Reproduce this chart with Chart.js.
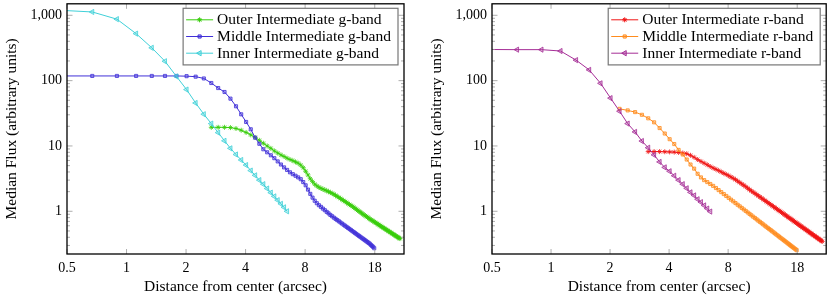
<!DOCTYPE html>
<html>
<head>
<meta charset="utf-8">
<script src="https://cdn.jsdelivr.net/npm/chart.js@4.4.1/dist/chart.umd.min.js"></script>
<style>
  body { margin: 0; background: #fff; }
  #wrap { position: relative; width: 830px; height: 301px; }
  .box { position: absolute; top: 0; height: 301px; }
</style>
</head>
<body>
<div id="wrap">
  <div class="box" style="left:0;width:415px"><canvas id="gChart"></canvas></div>
  <div class="box" style="left:425px;width:405px"><canvas id="rChart"></canvas></div>
</div>
<script>
// radial sample positions (arcsec), one per annulus
const radius = [
  0.447, 0.671, 0.894, 1.118, 1.342, 1.565, 1.789, 2.012, 2.236, 2.460,
  2.683, 2.907, 3.130, 3.354, 3.578, 3.801, 4.025, 4.249, 4.472, 4.696,
  4.919, 5.143, 5.367, 5.590, 5.814, 6.037, 6.261, 6.485, 6.708, 6.932,
  7.155, 7.379, 7.603, 7.826, 8.050, 8.273, 8.497, 8.721, 8.944, 9.168,
  9.391, 9.615, 9.839, 10.062, 10.286, 10.509, 10.733, 10.957, 11.180, 11.404,
  11.628, 11.851, 12.075, 12.298, 12.522, 12.746, 12.969, 13.193, 13.416, 13.640,
  13.864, 14.087, 14.311, 14.534, 14.758, 14.982, 15.205, 15.429, 15.652, 15.876,
  16.100, 16.323, 16.547, 16.771, 16.994, 17.218, 17.441, 17.665, 17.889, 18.112,
  18.336, 18.559, 18.783, 19.007, 19.230, 19.454, 19.677, 19.901, 20.125, 20.348,
  20.572, 20.795, 21.019, 21.243, 21.466, 21.690, 21.913, 22.137, 22.361, 22.584,
  22.808, 23.031, 23.255, 23.479, 23.702, 23.926, 24.150
];

const xTicks = [0.5, 1, 2, 4, 8, 18];
const yTicks = [1, 10, 100, 1000];
const yTickLabels = ['1', '10', '100', '1,000'];

// g-band profiles (start = index into radius)
const outerGStart = 10;
const outerG = [
  19.3, 19.3, 19.3, 19.1, 18.5, 17.4, 16.1, 14.8, 13.5, 12.2,
  11.0, 10.0, 9.2, 8.4, 7.8, 7.3, 6.9, 6.5, 6.2, 5.95,
  5.7, 5.45, 5.1, 4.65, 4.1, 3.6, 3.15, 2.85, 2.6, 2.45,
  2.33, 2.25, 2.18, 2.12, 2.06, 2.0, 1.94, 1.88, 1.82, 1.75,
  1.69, 1.63, 1.57, 1.51, 1.46, 1.41, 1.36, 1.31, 1.27, 1.23,
  1.19, 1.15, 1.11, 1.07, 1.035, 1.0, 0.97, 0.94, 0.91, 0.882,
  0.856, 0.832, 0.808, 0.786, 0.765, 0.743, 0.725, 0.707, 0.689, 0.673,
  0.656, 0.641, 0.626, 0.612, 0.598, 0.584, 0.571, 0.559, 0.547, 0.535,
  0.523, 0.512, 0.502, 0.491, 0.481, 0.472, 0.462, 0.453, 0.444, 0.436,
  0.427, 0.419, 0.411, 0.403, 0.396, 0.389, 0.382
];
const middleGStart = 0;
const middleG = [
  118, 118, 118, 118, 118, 118, 118, 117, 115, 108,
  92, 77, 67, 53, 40.5, 30.5, 23.3, 18, 13.4, 10.8,
  8.9, 8.0, 7.2, 6.5, 5.8, 5.2, 4.7, 4.3, 3.95, 3.7,
  3.5, 3.3, 3.1, 2.8, 2.5, 2.15, 1.85, 1.62, 1.45, 1.33,
  1.24, 1.17, 1.1, 1.04, 0.98, 0.93, 0.88, 0.84, 0.80, 0.766,
  0.734, 0.704, 0.675, 0.649, 0.623, 0.600, 0.577, 0.556, 0.536, 0.517,
  0.498, 0.481, 0.465, 0.449, 0.434, 0.420, 0.407, 0.394, 0.382, 0.370,
  0.359, 0.348, 0.338, 0.328, 0.318, 0.305, 0.295, 0.285, 0.272
];
const innerGStart = 0;
const innerG = [
  1200, 1125, 873, 524, 318, 198, 116, 73, 45.5, 30.6,
  22, 16, 12, 9.2, 7.4, 6.1, 5.1, 4.2, 3.55, 3.0,
  2.6, 2.23, 1.93, 1.69, 1.48, 1.30, 1.15, 1.0
];

// r-band profiles
const outerRStart = 12;
const outerR = [
  8.2, 8.2, 8.2, 8.15, 8.1, 8.05, 7.95, 7.8, 7.6, 7.2,
  6.7, 6.2, 5.8, 5.45, 5.15, 4.85, 4.6, 4.4, 4.2, 4.0,
  3.82, 3.66, 3.5, 3.35, 3.2, 3.05, 2.9, 2.76, 2.62, 2.5,
  2.38, 2.26, 2.15, 2.05, 1.96, 1.88, 1.8, 1.725, 1.655, 1.589,
  1.527, 1.468, 1.412, 1.36, 1.31, 1.263, 1.219, 1.176, 1.136, 1.098,
  1.061, 1.027, 0.994, 0.962, 0.932, 0.904, 0.876, 0.85, 0.825, 0.801,
  0.778, 0.756, 0.735, 0.714, 0.695, 0.676, 0.658, 0.641, 0.624, 0.608,
  0.593, 0.578, 0.564, 0.550, 0.537, 0.524, 0.512, 0.500, 0.488, 0.477,
  0.466, 0.456, 0.446, 0.436, 0.426, 0.417, 0.408, 0.400, 0.392, 0.383,
  0.375, 0.368, 0.361, 0.353, 0.346
];
const middleRStart = 8;
const middleR = [
  37, 35, 33, 30, 26.5, 23, 18.8, 15.5, 12.7, 10.7,
  8.7, 7.4, 6.2, 5.2, 4.5, 3.75, 3.3, 3.0, 2.8, 2.62,
  2.45, 2.27, 2.11, 1.966, 1.835, 1.716, 1.608, 1.509, 1.419, 1.336,
  1.26, 1.19, 1.126, 1.067, 1.012, 0.960, 0.913, 0.868, 0.827, 0.789,
  0.753, 0.719, 0.688, 0.658, 0.630, 0.604, 0.579, 0.556, 0.534, 0.514,
  0.494, 0.476, 0.458, 0.441, 0.426, 0.411, 0.396, 0.383, 0.370, 0.358,
  0.346, 0.335, 0.324, 0.314, 0.304, 0.295, 0.286, 0.278, 0.2695, 0.262, 0.254
];
const innerRStart = 0;
const innerR = [
  300, 298, 298, 284, 206, 146, 91, 54, 34, 22,
  16.4, 11.9, 9.4, 7.3, 5.7, 4.7, 4.1, 3.5, 3.0, 2.6,
  2.25, 1.95, 1.75, 1.53, 1.38, 1.23, 1.1, 0.99
];

const serif = "'Liberation Serif', 'Times New Roman', serif";
const tickFont = { family: serif, size: 14 };
const titleFont = { family: serif, size: 15.5 };

function toPoints(values, start) {
  return values.map((v, i) => ({ x: radius[start + i], y: v }));
}

function series(label, values, start, color, fill, shape, size, rot, order) {
  return {
    label: label,
    data: toPoints(values, start),
    borderColor: color,
    backgroundColor: fill,
    borderWidth: 1,
    pointStyle: shape,
    rotation: rot,
    pointRadius: size,
    pointHoverRadius: size,
    pointBorderWidth: 0.8,
    pointBorderColor: color,
    pointBackgroundColor: fill,
    showLine: true,
    tension: 0,
    fill: false,
    order: order
  };
}

// frame, inward ticks and boxed legend (pgfplots look)
const framePlugin = {
  id: 'frame',
  afterDatasetsDraw(chart) {
    const { ctx, chartArea: a, scales: { x, y } } = chart;
    ctx.save();
    ctx.strokeStyle = '#9a9a9a';
    ctx.lineWidth = 0.8;
    ctx.beginPath();
    xTicks.forEach(v => {
      const px = x.getPixelForValue(v);
      ctx.moveTo(px, a.bottom); ctx.lineTo(px, a.bottom - 5);
      ctx.moveTo(px, a.top); ctx.lineTo(px, a.top + 5);
    });
    for (let d = -1; d <= 3; d++) {
      for (let m = 1; m <= 9; m++) {
        const v = m * Math.pow(10, d);
        if (v < y.min || v > y.max) continue;
        const py = y.getPixelForValue(v);
        const len = m === 1 ? 5.5 : 3;
        ctx.moveTo(a.left, py); ctx.lineTo(a.left + len, py);
        ctx.moveTo(a.right, py); ctx.lineTo(a.right - len, py);
      }
    }
    ctx.stroke();

    ctx.strokeStyle = '#000';
    ctx.lineWidth = 1.3;
    ctx.strokeRect(a.left, a.top, a.width, a.height);

    // legend
    const sets = chart.data.datasets;
    ctx.font = '15.5px ' + serif;
    const textW = Math.max(...sets.map(s => ctx.measureText(s.label).width));
    const rowH = 16.7, sample = 27, gap = 4;
    const bw = 3 + sample + gap + textW + 7;
    const bh = rowH * sets.length + 6.5;
    const bx = a.right - 6 - bw, by = a.top + 4.5;
    ctx.fillStyle = '#fff';
    ctx.fillRect(bx, by, bw, bh);
    ctx.strokeStyle = '#777';
    ctx.lineWidth = 1.2;
    ctx.strokeRect(bx, by, bw, bh);
    sets.forEach((s, i) => {
      const cy = by + 11.5 + i * rowH;
      const sx = bx + 3;
      ctx.strokeStyle = s.borderColor;
      ctx.lineWidth = 1;
      ctx.beginPath();
      ctx.moveTo(sx, cy); ctx.lineTo(sx + sample, cy);
      ctx.stroke();
      ctx.fillStyle = s.pointBackgroundColor;
      Chart.helpers.drawPoint(ctx, {
        pointStyle: s.pointStyle, rotation: s.rotation,
        radius: s.pointRadius, borderWidth: 0.8
      }, sx + sample / 2, cy);
      ctx.fillStyle = '#000';
      ctx.textBaseline = 'middle';
      ctx.textAlign = 'left';
      ctx.fillText(s.label, sx + sample + gap, cy + 0.5);
    });
    ctx.restore();
  }
};

function makeChart(id, datasets) {
  return new Chart(document.getElementById(id), {
    type: 'scatter',
    data: { datasets: datasets },
    options: {
      responsive: true,
      maintainAspectRatio: false,
      animation: false,
      events: [],
      layout: { padding: { top: 1, right: id === 'gChart' ? 11 : 1, bottom: 0, left: 0 } },
      plugins: { legend: { display: false }, tooltip: { enabled: false } },
      scales: {
        x: {
          type: 'logarithmic',
          min: 0.5,
          max: 25.3,
          afterBuildTicks: s => { s.ticks = xTicks.map(v => ({ value: v, major: true })); },
          afterFit: s => { s.height = 47; s.paddingLeft = 0; s.paddingRight = 0; },
          grid: { display: false, drawTicks: false },
          border: { display: false },
          ticks: {
            color: '#000', font: tickFont, padding: 6, autoSkip: false,
            maxRotation: 0, minRotation: 0,
            callback: v => String(v)
          },
          title: {
            display: true, text: 'Distance from center (arcsec)', color: '#000',
            font: titleFont, padding: { top: 0, bottom: 4.7 }
          }
        },
        y: {
          type: 'logarithmic',
          min: 0.222,
          max: 1500,
          afterBuildTicks: s => { s.ticks = yTicks.map(v => ({ value: v, major: true })); },
          afterFit: s => { s.width = 67; s.paddingTop = 0; s.paddingBottom = 0; },
          grid: { display: false, drawTicks: false },
          border: { display: false },
          ticks: {
            color: '#000', font: tickFont, padding: 5, autoSkip: false,
            callback: v => yTickLabels[yTicks.indexOf(v)]
          },
          title: {
            display: true, text: 'Median Flux (arbitrary units)', color: '#000',
            font: titleFont, padding: { top: 2.7, bottom: 0 }
          }
        }
      }
    },
    plugins: [framePlugin]
  });
}

makeChart('gChart', [
  series('Outer Intermediate g-band', outerG, outerGStart, 'rgb(55,205,10)', 'rgba(55,205,10,0.4)', 'star', 2.5, 0, 2),
  series('Middle Intermediate g-band', middleG, middleGStart, 'rgb(64,48,216)', 'rgba(64,48,216,0.35)', 'rect', 2.2, 0, 1),
  series('Inner Intermediate g-band', innerG, innerGStart, 'rgb(64,208,216)', 'rgba(64,208,216,0.35)', 'triangle', 3, -90, 0)
]);

makeChart('rChart', [
  series('Outer Intermediate r-band', outerR, outerRStart, 'rgb(240,20,20)', 'rgba(240,20,20,0.4)', 'star', 2.5, 0, 2),
  series('Middle Intermediate r-band', middleR, middleRStart, 'rgb(255,140,30)', 'rgba(255,140,30,0.35)', 'rect', 2.2, 0, 1),
  series('Inner Intermediate r-band', innerR, innerRStart, 'rgb(165,45,150)', 'rgba(165,45,150,0.35)', 'triangle', 3, -90, 0)
]);
</script>
</body>
</html>
